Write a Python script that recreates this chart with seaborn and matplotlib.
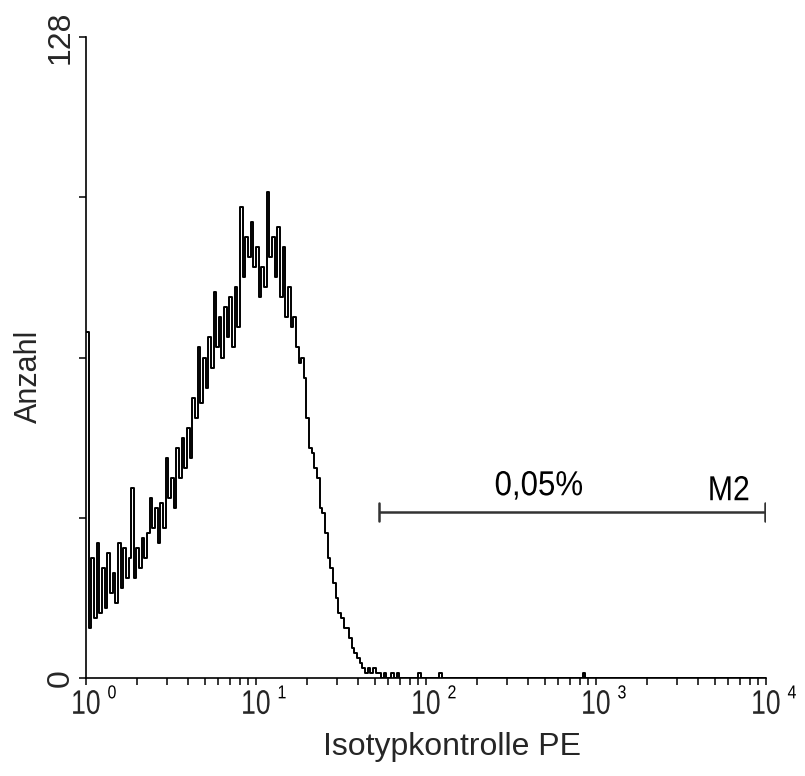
import numpy as np
import pandas as pd
import matplotlib
matplotlib.use("Agg")
import matplotlib.pyplot as plt
import seaborn as sns
from matplotlib.ticker import FixedLocator, LogLocator, NullFormatter
from matplotlib.patheffects import AbstractPathEffect
from matplotlib.transforms import Affine2D

# Histogram of PE fluorescence: 256 log channels spanning 10^0 .. 10^4
counts = [
    69, 10, 24, 12, 27, 13, 22, 14, 25, 17, 21, 15, 27, 18, 26, 20,
    24, 38, 20, 26, 22, 28, 24, 29, 36, 30, 34, 27, 35, 30, 44, 36,
    40, 34, 46, 40, 48, 42, 50, 44, 56, 52, 66, 55, 64, 58, 68, 62,
    77, 66, 72, 64, 74, 68, 76, 66, 78, 70, 94, 80, 88, 84, 91, 82,
    86, 76, 82, 78, 97, 84, 88, 80, 90, 76, 86, 72, 78, 70, 72, 66,
    63, 64, 60, 52, 46, 45, 42, 40, 34, 33, 29, 24, 22, 19, 16, 13,
    12, 10, 10, 8, 6, 5, 4, 3, 2, 1, 2, 1, 2, 1, 1, 0,
    1, 0, 0, 1, 0, 1, 0, 0, 0, 0, 0, 0, 0, 1, 0, 0,
    0, 0, 0, 0, 0, 1, 0, 0, 0, 0, 0, 0, 0, 0, 0, 0,
    0, 0, 0, 0, 0, 0, 0, 0, 0, 0, 0, 0, 0, 0, 0, 0,
    0, 0, 0, 0, 0, 0, 0, 0, 0, 0, 0, 0, 0, 0, 0, 0,
    0, 0, 0, 0, 0, 0, 0, 0, 0, 0, 0, 1, 0, 0, 0, 0,
    0, 0, 0, 0, 0, 0, 0, 0, 0, 0, 0, 0, 0, 0, 0, 0,
    0, 0, 0, 0, 0, 0, 0, 0, 0, 0, 0, 0, 0, 0, 0, 0,
    0, 0, 0, 0, 0, 0, 0, 0, 0, 0, 0, 0, 0, 0, 0, 0,
    0, 0, 0, 0, 0, 0, 0, 0, 0, 0, 0, 0, 0, 0, 0, 0,
]
channels_per_decade = 64
decades = 4

y_ticks = [0, 32, 64, 96, 128]
y_tick_labels = ["0", "", "", "", "128"]
x_decades = [0, 1, 2, 3, 4]

# Marker M2 gate and its percentage
gate_name = "M2"
gate_range = (52.7, 9860)
gate_level = 33.2
gate_percent = "0,05%"

x_label = "Isotypkontrolle PE"
y_label = "Anzahl"


class Condensed(AbstractPathEffect):
    """Squeeze glyph outlines horizontally around a chosen anchor."""

    def __init__(self, factor, anchor="center"):
        super().__init__()
        self.factor = factor
        self.anchor = anchor

    def draw_path(self, renderer, gc, tpath, affine, rgbFace=None):
        verts = affine.transform(tpath.vertices)
        if len(verts):
            lo, hi = verts[:, 0].min(), verts[:, 0].max()
            cx = {"left": lo, "right": hi}.get(self.anchor, 0.5 * (lo + hi))
            affine = affine + Affine2D().translate(-cx, 0).scale(self.factor, 1).translate(cx, 0)
        renderer.draw_path(gc, tpath, affine, rgbFace)


sns.set_theme(style="white")
plt.rcParams["font.family"] = ["Liberation Sans", "DejaVu Sans"]

n = len(counts)
centers = 10 ** ((np.arange(n) + 0.5) / channels_per_decade)
df = pd.DataFrame({"fluorescence": centers, "count": counts})

fig = plt.figure(figsize=(8.05, 7.76), dpi=100)
ax = fig.add_axes([86 / 805, 1 - 678 / 776, 680 / 805, 641 / 776])

sns.histplot(
    data=df, x="fluorescence", weights="count", bins=n,
    binrange=(0, decades), log_scale=True, element="step", fill=False,
    color="black", linewidth=1.4, ax=ax,
)

ax.set_xlim(1, 10 ** decades)
ax.set_ylim(0, 128)

# Gate marker
g0, g1 = gate_range
ax.plot([g0, g1], [gate_level, gate_level], color="#333333", lw=1.8, solid_capstyle="butt")
for gx in (g0, g1):
    ax.plot([gx, gx], [gate_level - 1.8, gate_level + 1.8], color="#333333", lw=1.8)
t_pct = ax.text(462, 36.5, gate_percent, ha="center", va="baseline",
                fontsize=25, color="black")
t_pct.set_path_effects([Condensed(0.9)])
t_name = ax.text(6057, 35.5, gate_name, ha="center", va="baseline",
                 fontsize=25, color="black")
t_name.set_path_effects([Condensed(0.87)])

# Axes styling
for side in ("top", "right"):
    ax.spines[side].set_visible(False)
for side in ("left", "bottom"):
    ax.spines[side].set_color("black")
    ax.spines[side].set_linewidth(1.2)

ax.xaxis.set_major_locator(FixedLocator([10 ** d for d in x_decades]))
ax.set_xticklabels(["10"] * len(x_decades), fontsize=24.5)
ax.xaxis.set_minor_locator(LogLocator(base=10, subs=np.arange(2, 10)))
ax.xaxis.set_minor_formatter(NullFormatter())
ax.set_yticks(y_ticks)
ax.set_yticklabels(y_tick_labels, rotation=90, va="center", fontsize=23)

ax.tick_params(axis="both", which="both", direction="out", color="black",
               width=1.1, bottom=True, left=True)
ax.tick_params(axis="x", which="major", length=5, pad=3.5)
ax.tick_params(axis="x", which="minor", length=5)
ax.tick_params(axis="y", which="major", length=5, pad=2.5)
for lab in ax.get_xticklabels():
    lab.set_path_effects([Condensed(0.78)])

# Decade exponents, set as superscripts beside each "10"
for d in x_decades:
    ex = ax.annotate(str(d), xy=(10 ** d, 0), xycoords=("data", "axes fraction"),
                     xytext=(15.5, -5.3), textcoords="offset points",
                     ha="left", va="top", fontsize=13.5, color="black",
                     annotation_clip=False)
    ex.set_path_effects([Condensed(0.85, anchor="left")])

ax.set_xlabel(x_label, fontsize=23)
ax.xaxis.set_label_coords(0.538, -0.0842)
ax.set_ylabel(y_label, fontsize=22)
ax.yaxis.set_label_coords(-0.062, 0.471)
ax.grid(False)

fig.savefig("out.png", dpi=100, facecolor="white")
